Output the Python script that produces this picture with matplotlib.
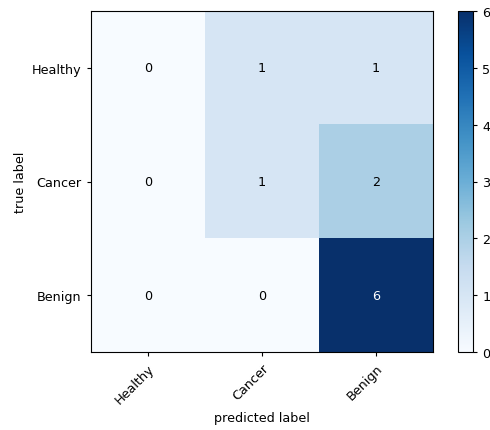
import matplotlib
matplotlib.use("Agg")
import matplotlib.pyplot as plt
import numpy as np

classes = ["Healthy", "Cancer", "Benign"]
cm = np.array([
    [0, 1, 1],
    [0, 1, 2],
    [0, 0, 6],
])

plt.rcParams["font.size"] = 9.2
plt.rcParams["xtick.major.size"] = 3.2
plt.rcParams["ytick.major.size"] = 3.2

fig = plt.figure(figsize=(4.9, 4.31), dpi=100)
ax = fig.add_axes([91 / 490, 1 - 353 / 431, 342 / 490, 341 / 431])
cax = fig.add_axes([458 / 490, 1 - 353 / 431, 15 / 490, 341 / 431])

im = ax.imshow(cm, interpolation="nearest", cmap=plt.cm.Blues, aspect="auto")
fig.colorbar(im, cax=cax)

ticks = np.arange(len(classes))
ax.set_xticks(ticks)
ax.set_xticklabels(classes, rotation=45, ha="right", rotation_mode="anchor")
ax.set_yticks(ticks)
ax.set_yticklabels(classes)

thresh = cm.max() / 2.0
for i in range(cm.shape[0]):
    for j in range(cm.shape[1]):
        ax.text(j, i, format(cm[i, j], "d"), ha="center", va="center",
                color="white" if cm[i, j] > thresh else "black")

ax.set_ylabel("true label")
ax.set_xlabel("predicted label")

fig.savefig("out.png", dpi=100)
